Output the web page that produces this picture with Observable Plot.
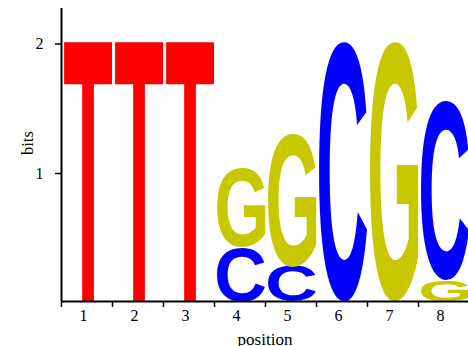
<!DOCTYPE html>
<html>
<head>
<meta charset="utf-8">
<script src="https://cdn.jsdelivr.net/npm/d3@7"></script>
<script src="https://cdn.jsdelivr.net/npm/@observablehq/plot@0.6"></script>
<style>
  html, body { margin: 0; padding: 0; background: #fff; }
  #chart { width: 468px; height: 346px; overflow: hidden; }
</style>
</head>
<body>
<div id="chart"></div>
<script>
// ---- data (stacked bottom -> top within each position) ----
const positions = [1, 2, 3, 4, 4, 5, 5, 6, 7, 8, 8];
const letters   = ["T", "T", "T", "C", "G", "C", "G", "C", "G", "G", "C"];
const bits      = [2.0, 2.0, 2.0, 0.42, 0.61, 0.27, 1.02, 2.0, 2.0, 0.16, 1.38];
const xTickLabels = [1, 2, 3, 4, 5, 6, 7, 8];
const yTickValues = [1, 2];
const letterColors = { T: "#ff0000", C: "#0000ff", G: "#c8c800" };

// stack heights per position
const cum = {};
const rows = positions.map((p, i) => {
  const y1 = cum[p] || 0;
  const y2 = y1 + bits[i];
  cum[p] = y2;
  return { pos: p, letter: letters[i], y1, y2, color: letterColors[letters[i]] };
});
const boundaries = xTickLabels.map(d => d - 0.5);

const W = 468, H = 346;
const mL = 61, mR = 0, mT = 8, mB = 45;
const xMax = 0.5 + (W - mL - mR) / 51;
const yMax = (H - mT - mB) / 129.5;
const serif = "'Liberation Serif', 'Times New Roman', serif";
const GLYPH = 1000;

const plot = Plot.plot({
  width: W, height: H,
  marginLeft: mL, marginRight: mR, marginTop: mT, marginBottom: mB,
  style: { fontFamily: serif, fontSize: "16px", background: "#fff", color: "#000" },
  x: { domain: [0.5, xMax], axis: null },
  y: { domain: [0, yMax], axis: null },
  color: { type: "identity" },
  marks: [
    Plot.text(rows, {
      x: "pos", y: d => (d.y1 + d.y2) / 2, text: "letter", fill: "color",
      fontFamily: "Liberation Sans", fontWeight: "bold", fontSize: GLYPH, textAnchor: "start"
    }),
    Plot.axisX({ ticks: boundaries, tickSize: 6, tickFormat: () => "", strokeWidth: 1.5, label: null }),
    Plot.axisX({ ticks: xTickLabels, tickSize: 0, tickPadding: 8, dx: -3.5, tickFormat: d => String(d), label: null, fontSize: 16, fontFamily: serif }),
    Plot.axisY({ ticks: yTickValues, tickSize: 6, tickPadding: 12, dy: 1.5, strokeWidth: 1.5, tickFormat: d => String(d), label: null, fontSize: 16, fontFamily: serif }),
    Plot.ruleX([0.5], { strokeWidth: 2 }),
    Plot.ruleY([0], { strokeWidth: 2 }),
    Plot.text(["bits"], { frameAnchor: "left", rotate: -90, dx: -34, fontSize: 16.5, fontFamily: serif, lineAnchor: "middle" }),
    Plot.text(["position"], { frameAnchor: "bottom", dy: 38, fontSize: 17, fontFamily: serif, lineAnchor: "middle" })
  ]
});
document.getElementById("chart").appendChild(plot);

// measure the true ink box of a glyph by rasterising it
const inkCache = {};
function ink(letter) {
  if (inkCache[letter]) return inkCache[letter];
  const S = 400, cw = 3 * S, ch = 2 * S, ox = S, oy = 1.5 * S;
  const cv = document.createElement("canvas");
  cv.width = cw; cv.height = ch;
  const c = cv.getContext("2d");
  c.font = `bold ${S}px 'Liberation Sans'`;
  c.textBaseline = "alphabetic";
  c.textAlign = "left";
  c.fillStyle = "#000";
  c.fillText(letter, ox, oy);
  const data = c.getImageData(0, 0, cw, ch).data;
  let minX = cw, maxX = -1, minY = ch, maxY = -1;
  for (let y = 0; y < ch; y++) {
    for (let x = 0; x < cw; x++) {
      if (data[(y * cw + x) * 4 + 3] > 127) {
        if (x < minX) minX = x;
        if (x > maxX) maxX = x;
        if (y < minY) minY = y;
        if (y > maxY) maxY = y;
      }
    }
  }
  const k = GLYPH / S;
  const r = { L: (ox - minX) * k, R: (maxX + 1 - ox) * k, A: (oy - minY) * k, D: (maxY + 1 - oy) * k };
  inkCache[letter] = r;
  return r;
}

// stretch each letter glyph to fill its stacked cell, using Plot's own scales
const sx = plot.scale("x"), sy = plot.scale("y");
const svg = plot.tagName.toLowerCase() === "svg" ? plot : plot.querySelector("svg");
const letterGroup = svg.querySelector('g[aria-label="text"]');
const texts = letterGroup ? letterGroup.querySelectorAll("text") : [];
texts.forEach((el, i) => {
  const d = rows[i];
  const { L, R, A, D } = ink(d.letter);
  const X0 = sx.apply(d.pos - 0.5) + 2.5;
  const X1 = sx.apply(d.pos + 0.5) - 0.5;
  const Y0 = sy.apply(d.y2);
  const Y1 = sy.apply(d.y1);
  const kx = (X1 - X0) / (L + R);
  const ky = (Y1 - Y0) / (A + D);
  const tx = X0 + L * kx;
  const ty = Y0 + A * ky;
  el.removeAttribute("dy");
  el.setAttribute("x", 0);
  el.setAttribute("y", 0);
  el.setAttribute("text-anchor", "start");
  el.setAttribute("transform", `translate(${tx},${ty}) scale(${kx},${ky})`);
});
</script>
</body>
</html>
